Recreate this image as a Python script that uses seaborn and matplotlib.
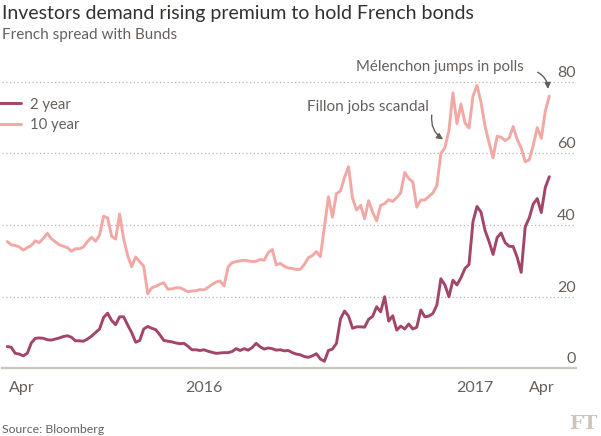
import pandas as pd
import numpy as np
import matplotlib
matplotlib.use("Agg")
import matplotlib.pyplot as plt
import matplotlib.dates as mdates
import seaborn as sns

# French spread with Bunds (basis points)
dates = pd.date_range('2015-04-20', '2017-04-20', periods=136)

ten_year = [
    35.4, 34.5, 34.3, 33.9, 33.0, 33.7, 34.3, 35.6, 35.1, 36.3,
    37.7, 36.2, 35.3, 34.5, 34.1, 33.7, 32.7, 33.4, 33.4, 33.9,
    35.4, 36.6, 35.5, 37.2, 42.5, 42.0, 36.9, 36.1, 43.1, 36.2,
    31.5, 28.4, 31.1, 29.8, 28.5, 20.8, 22.5, 22.9, 23.5, 23.9,
    22.1, 22.2, 22.5, 22.5, 22.0, 21.4, 21.6, 21.7, 22.0, 21.9,
    22.6, 23.4, 24.1, 24.4, 23.0, 28.3, 29.5, 29.8, 30.0, 30.2,
    30.0, 29.8, 29.9, 30.4, 30.2, 32.3, 33.2, 28.9, 29.3, 28.5,
    28.0, 27.9, 27.6, 27.7, 29.0, 30.9, 31.5, 32.6, 31.2, 39.5,
    47.9, 42.2, 48.8, 49.5, 53.3, 56.3, 47.5, 44.2, 45.5, 41.8,
    46.8, 43.6, 41.2, 45.5, 46.0, 47.1, 46.6, 47.7, 49.0, 54.7,
    53.0, 52.1, 45.0, 47.0, 47.0, 48.0, 49.0, 51.0, 60.0, 61.6,
    66.3, 76.9, 68.3, 73.8, 68.5, 67.1, 76.0, 79.0, 74.2, 67.6,
    63.0, 58.8, 64.8, 64.5, 63.6, 64.3, 67.5, 63.9, 61.5, 57.7,
    58.2, 62.3, 67.2, 64.2, 71.8, 76.0,
]

two_year = [
    6.1, 5.9, 4.2, 4.0, 3.5, 4.2, 7.1, 8.4, 8.5, 8.4,
    8.0, 7.9, 8.2, 8.5, 8.9, 9.1, 8.7, 7.7, 7.7, 7.6,
    8.2, 9.0, 10.0, 11.0, 14.2, 15.4, 13.4, 12.2, 14.4, 14.4,
    12.1, 10.0, 7.3, 7.8, 11.0, 11.7, 11.2, 10.8, 9.4, 7.8,
    7.6, 7.4, 7.1, 6.9, 7.0, 6.2, 5.2, 5.2, 5.0, 5.2,
    4.8, 4.5, 4.2, 4.3, 4.4, 4.4, 4.7, 5.5, 5.0, 5.5,
    5.1, 5.8, 7.0, 6.0, 5.4, 5.7, 5.5, 5.1, 5.2, 4.9,
    5.0, 4.4, 4.0, 3.8, 3.3, 3.1, 3.5, 4.1, 2.6, 2.0,
    5.0, 5.4, 7.0, 13.8, 16.0, 14.6, 11.2, 11.6, 11.6, 11.5,
    13.7, 14.5, 17.2, 15.8, 20.0, 13.2, 14.7, 10.7, 11.8, 11.0,
    12.4, 11.0, 11.5, 16.3, 14.4, 14.6, 15.3, 17.7, 25.0, 23.3,
    20.0, 24.6, 23.3, 25.3, 27.9, 29.0, 41.0, 45.2, 43.6, 38.5,
    35.4, 31.8, 36.5, 37.8, 35.1, 34.1, 34.0, 31.0, 26.8, 39.5,
    42.0, 45.9, 47.4, 43.5, 50.5, 53.5,
]

series_names = ['2 year', '10 year']
y_ticks = [0, 20, 40, 60, 80]
tick_dates = ['2015-04-20', '2015-06-01', '2015-08-01', '2015-10-01', '2015-12-01',
              '2016-02-01', '2016-04-01', '2016-06-01', '2016-08-01', '2016-10-01',
              '2016-12-01', '2017-02-01', '2017-04-01', '2017-04-20']
label_dates = ['2015-04-22', '2016-01-10', '2017-01-10', '2017-04-10']
label_texts = ['Apr', '2016', '2017', 'Apr']

df = pd.DataFrame({'Date': dates, '2 year': two_year, '10 year': ten_year})
long_df = df.melt(id_vars='Date', var_name='Series', value_name='Spread')

sns.set_style('white')
plt.rcParams['font.family'] = ['Lato', 'DejaVu Sans']

text_grey = '#66605c'
colors = {'2 year': '#a3456a', '10 year': '#f2a8a4'}

fig = plt.figure(figsize=(6.01, 4.36), dpi=100)
ax = fig.add_axes([2 / 601, 67.6 / 436, 574 / 601, 293.8 / 436])

sns.lineplot(data=long_df, x='Date', y='Spread', hue='Series', hue_order=series_names,
             palette=colors, linewidth=2.1, ax=ax)

ax.set_xlim(pd.Timestamp('2015-04-13'), pd.Timestamp('2017-05-26'))
ax.set_ylim(0, 82)

# y gridlines, labels sit on top of the lines at the right edge
for v in y_ticks[1:]:
    ax.axhline(v, color='#b8b2ac', linestyle=(0, (1, 2)), linewidth=0.9, zorder=0)
for v in y_ticks:
    ax.text(1.0, v + 0.6, str(v), transform=ax.get_yaxis_transform(),
            ha='right', va='bottom', fontsize=11.5, color=text_grey)
ax.set_yticks([])

for s in ['top', 'right', 'left']:
    ax.spines[s].set_visible(False)
ax.spines['bottom'].set_color('#c6c8bc')
ax.spines['bottom'].set_linewidth(1.6)

ax.set_xticks([pd.Timestamp(d) for d in tick_dates], minor=True)
ax.set_xticks([pd.Timestamp(d) for d in label_dates])
ax.set_xticklabels(label_texts)
ax.tick_params(axis='x', which='minor', length=5, width=1, color='#c6c8bc', direction='out')
ax.tick_params(axis='x', which='major', length=0, pad=9, labelsize=11.5, labelcolor=text_grey)
ax.get_xticklabels()[0].set_ha('left')
ax.set_xlabel('')
ax.set_ylabel('')

leg = ax.legend(loc='upper left', bbox_to_anchor=(-0.005, 0.922), frameon=False,
                fontsize=10.7, handlelength=1.45, handletextpad=0.6, labelspacing=0.45,
                borderaxespad=0, borderpad=0)
for t in leg.get_texts():
    t.set_color(text_grey)
for h in leg.get_lines():
    h.set_linewidth(2.1)

# annotations
ax.text(pd.Timestamp('2016-11-08'), 73.0, 'Fillon jobs scandal', ha='right', va='center',
        fontsize=11, color=text_grey)
ax.annotate('', xy=(pd.Timestamp('2016-12-01'), 63.5), xytext=(pd.Timestamp('2016-11-13'), 71.5),
            arrowprops=dict(arrowstyle='-|>', color='#66605c', lw=1.0,
                            connectionstyle='arc3,rad=0.35', mutation_scale=9))
ax.text(pd.Timestamp('2017-03-16'), 84.2, 'Mélenchon jumps in polls', ha='right', va='center',
        fontsize=10.8, color=text_grey)
ax.annotate('', xy=(pd.Timestamp('2017-04-18'), 77.2), xytext=(pd.Timestamp('2017-04-01'), 83.0),
            arrowprops=dict(arrowstyle='-|>', color='#66605c', lw=1.0,
                            connectionstyle='arc3,rad=-0.35', mutation_scale=9),
            annotation_clip=False)

fig.text(2 / 601, 1 - 14 / 436, 'Investors demand rising premium to hold French bonds',
         ha='left', va='center', fontsize=14, color='#33302e')
fig.text(2 / 601, 1 - 35 / 436, 'French spread with Bunds', ha='left', va='center',
         fontsize=11, color=text_grey)
fig.text(2 / 601, 1 - 429 / 436, 'Source: Bloomberg', ha='left', va='center',
         fontsize=8.8, color=text_grey)
fig.text(598 / 601, 1 - 424 / 436, 'FT', ha='right', va='center', fontsize=14,
         color='#cdc5b9', family=['DejaVu Serif'], weight='bold')

fig.savefig('out.png', dpi=100)
